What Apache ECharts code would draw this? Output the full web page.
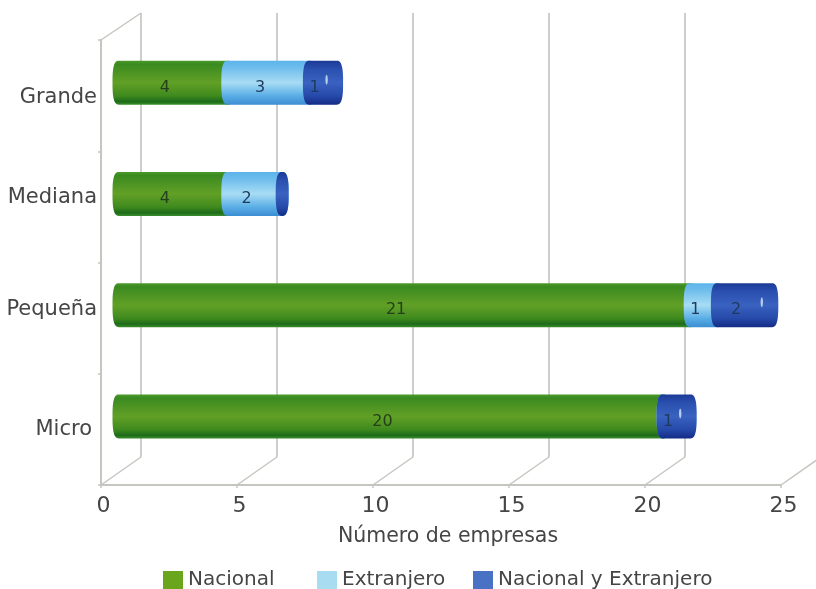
<!DOCTYPE html>
<html>
<head>
<meta charset="utf-8">
<style>html,body{margin:0;padding:0;background:#fff}#c{width:816px;height:589px}</style>
<script src="https://cdn.jsdelivr.net/npm/echarts@6/dist/echarts.min.js"></script>
</head>
<body>
<div id="c"></div>
<script>
var categories = ['Micro', 'Pequeña', 'Mediana', 'Grande'];
var nacional = [20, 21, 4, 4];
var extranjero = [0, 1, 2, 3];
var ambos = [1, 2, 0, 1];
var xTicks = [0, 5, 10, 15, 20, 25];
var seriesNames = ['Nacional', 'Extranjero', 'Nacional y Extranjero'];

var FONT = '"DejaVu Sans"';
var LINE = '#c6c6c0';
var TEXT = '#454545';
var chart = echarts.init(document.getElementById('c'), null, {renderer: 'canvas'});

function grad(stops) {
  return new echarts.graphic.LinearGradient(0, 0, 0, 1, stops.map(function (c) {
    return {offset: c[0], color: c[1]};
  }));
}
var fills = [
  grad([[0, '#4c9a2a'], [0.08, '#3a8a20'], [0.5, '#62a026'], [0.8, '#3f8a1e'], [0.93, '#1d6b1a'], [1, '#3a8c2c']]),
  grad([[0, '#5cb4ea'], [0.15, '#6cbcec'], [0.5, '#a8dcf4'], [0.8, '#5aaee6'], [1, '#3c8ed2']]),
  grad([[0, '#1c3a96'], [0.2, '#2a50b0'], [0.5, '#3a62c0'], [0.8, '#264aaa'], [1, '#142c86']])
];
var legendColors = ['#6aa51e', '#a8dcf0', '#4a72c4'];
var legendLefts = [163, 317, 473];

function stacked(seriesIndex) {
  var all = [nacional, extranjero, ambos];
  return categories.map(function (c, i) {
    var start = 0;
    for (var s = 0; s < seriesIndex; s++) start += all[s][i];
    return [start, start + all[seriesIndex][i], i];
  });
}

var RX = 6.5, RY = 22, SQ = 0.72;
function sp(v) { return (v < 0 ? -1 : 1) * Math.pow(Math.abs(v), SQ); }
function cylinder(seriesIndex) {
  return function (params, api) {
    var v0 = api.value(0), v1 = api.value(1), idx = api.value(2);
    var p0 = api.coord([v0, idx]), p1 = api.coord([v1, idx]);
    var cy = p0[1], pts = [], a;
    for (a = -90; a <= 90; a += 6) {
      var r = a * Math.PI / 180;
      pts.push([p1[0] + RX * sp(Math.cos(r)), cy + RY * sp(Math.sin(r))]);
    }
    for (a = 90; a <= 270; a += 6) {
      var r2 = a * Math.PI / 180;
      pts.push([p0[0] + RX * sp(Math.cos(r2)), cy + RY * sp(Math.sin(r2))]);
    }
    var children = [{type: 'polygon', shape: {points: pts}, style: {fill: fills[seriesIndex]}}];
    var val = v1 - v0;
    if (seriesIndex === 2 && val > 0) {
      children.push({type: 'ellipse', shape: {cx: p1[0] - 10, cy: cy - 3, rx: 1.2, ry: 5},
        style: {fill: 'rgba(215,232,248,0.8)'}});
    }
    if (val > 0) {
      children.push({type: 'text', style: {
        text: String(val), x: (p0[0] + p1[0]) / 2 - 8.5, y: cy + 5,
        align: 'center', verticalAlign: 'middle',
        font: '16px ' + FONT, fill: seriesIndex === 0 ? '#23401a' : '#1f3a5c'
      }});
    }
    return {type: 'group', children: children};
  };
}

function floorLines(params, api) {
  var x = api.coord([api.value(0), 0])[0];
  var cs = params.coordSys;
  var yb = cs.y + cs.height;
  return {type: 'line', shape: {x1: x, y1: yb, x2: x + 40, y2: yb - 28},
    style: {stroke: LINE, lineWidth: 1.5}};
}
function topLine(params, api) {
  var x = api.coord([api.value(0), 0])[0];
  var cs = params.coordSys;
  return {type: 'line', shape: {x1: x, y1: cs.y, x2: x + 40, y2: cs.y - 27},
    style: {stroke: LINE, lineWidth: 1.5}};
}

var hiddenY = function (g) {
  return {gridIndex: g, type: 'category', data: categories, show: false};
};
var hiddenX = function (g) {
  return {gridIndex: g, type: 'value', min: 0, max: 25, interval: 5, show: false};
};
var yFont = {fontSize: 21, color: TEXT, fontFamily: FONT};

var option = {
  animation: false,
  backgroundColor: '#ffffff',
  textStyle: {fontFamily: FONT},
  grid: [
    {left: 101, top: 40, width: 680, height: 445, outerBoundsMode: 'none'},
    {left: 141, top: 13, width: 680, height: 444, outerBoundsMode: 'none'},
    {left: 119, top: 27, width: 680, height: 445, outerBoundsMode: 'none'}
  ],
  xAxis: [
    {
      gridIndex: 0, type: 'value', min: 0, max: 25, interval: 5,
      name: 'Número de empresas', nameLocation: 'middle', nameGap: 41,
      nameTextStyle: {fontSize: 20.5, color: TEXT, fontFamily: FONT, padding: [0, 0, 0, 14]},
      axisLine: {show: true, lineStyle: {color: LINE, width: 2}},
      axisTick: {show: true, length: 3, lineStyle: {color: LINE, width: 1.5}},
      axisLabel: {fontSize: 22, color: TEXT, fontFamily: FONT, margin: 10, padding: [0, 0, 0, 5],
        customValues: xTicks},
      splitLine: {show: false}
    },
    {
      gridIndex: 1, type: 'value', min: 0, max: 25, interval: 5,
      axisLine: {show: false}, axisTick: {show: false}, axisLabel: {show: false},
      splitLine: {show: true, lineStyle: {color: '#bebeb8', width: 1.5}}
    },
    hiddenX(2)
  ],
  yAxis: [
    {
      gridIndex: 0, type: 'category', data: categories,
      axisLine: {show: true, lineStyle: {color: LINE, width: 2}},
      axisTick: {show: true, length: 3, lineStyle: {color: LINE, width: 1.5}},
      axisLabel: Object.assign({}, yFont, {
        margin: 4,
        formatter: function (v) {
          var key = v === 'Micro' ? 'low' : (v === 'Grande' ? 'top' : 'mid');
          return '{' + key + '|' + v + '}';
        },
        rich: {
          low: Object.assign({}, yFont, {padding: [0, 5, 0, 0]}),
          mid: Object.assign({}, yFont, {padding: [0, 0, 18, 0]}),
          top: Object.assign({}, yFont, {padding: [4, 0, 0, 0]})
        }
      })
    },
    hiddenY(1),
    hiddenY(2)
  ],
  legend: seriesNames.map(function (n, i) {
    return {
      data: [{name: n, icon: 'rect', itemStyle: {color: legendColors[i]}}],
      left: legendLefts[i], top: 570, itemWidth: 20, itemHeight: 18, itemGap: 0, padding: 0,
      selectedMode: false,
      textStyle: {fontSize: 20, color: TEXT, fontFamily: FONT, padding: [0, 0, 3, 0]}
    };
  }),
  series: [
    {type: 'custom', name: 'floor', xAxisIndex: 0, yAxisIndex: 0, silent: true, z: 1,
      data: xTicks.map(function (t) { return [t]; }), renderItem: floorLines, clip: false,
      encode: {x: 0}},
    {type: 'custom', name: 'top', xAxisIndex: 0, yAxisIndex: 0, silent: true, z: 1,
      data: [[xTicks[0]]], renderItem: topLine, clip: false, encode: {x: 0}}
  ].concat(seriesNames.map(function (n, i) {
    return {
      type: 'custom', name: n, xAxisIndex: 2, yAxisIndex: 2, z: 5 + i, clip: false,
      itemStyle: {color: legendColors[i]},
      encode: {x: [0, 1], y: 2},
      data: stacked(i), renderItem: cylinder(i)
    };
  }))
};
chart.setOption(option);
</script>
</body>
</html>
